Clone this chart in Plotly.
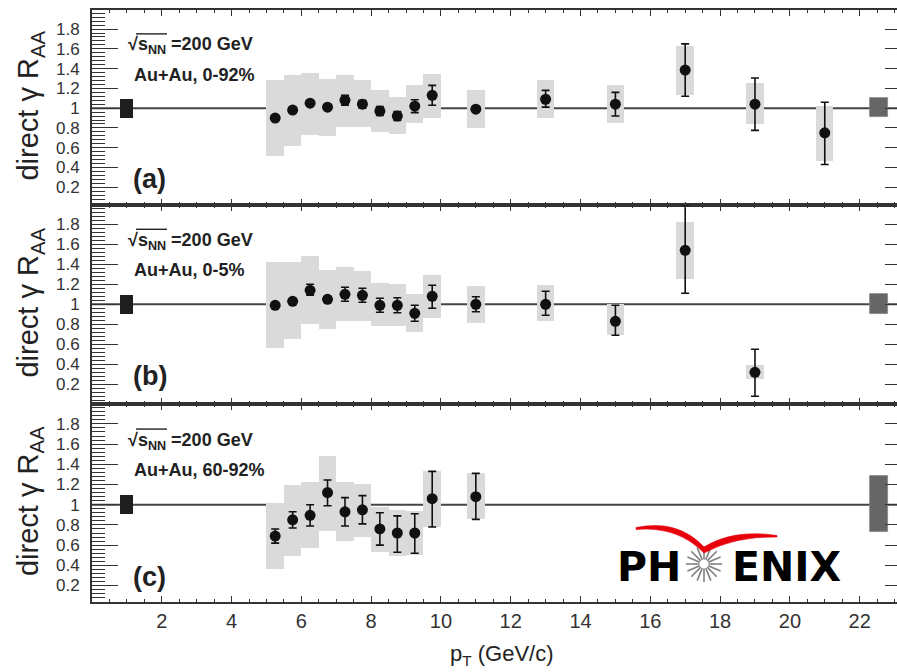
import math
import plotly.graph_objects as go

# ---------------- data ----------------
pt_a = [5.25, 5.75, 6.25, 6.75, 7.25, 7.75, 8.25, 8.75, 9.25, 9.75, 11, 13, 15, 17, 19, 21]
raa_a = [0.90, 0.98, 1.05, 1.01, 1.08, 1.04, 0.97, 0.92, 1.02, 1.13, 0.99, 1.09, 1.04, 1.385, 1.04, 0.75]
stat_up_a = [0.02, 0.02, 0.02, 0.02, 0.05, 0.04, 0.045, 0.045, 0.065, 0.10, 0.02, 0.09, 0.12, 0.265, 0.265, 0.31]
stat_dn_a = [0.02, 0.02, 0.02, 0.02, 0.05, 0.04, 0.045, 0.045, 0.065, 0.10, 0.02, 0.08, 0.12, 0.265, 0.265, 0.32]
sys_lo_a = [0.52, 0.62, 0.73, 0.72, 0.81, 0.81, 0.76, 0.74, 0.85, 0.90, 0.80, 0.90, 0.85, 1.13, 0.84, 0.47]
sys_hi_a = [1.28, 1.34, 1.36, 1.29, 1.34, 1.28, 1.18, 1.11, 1.23, 1.35, 1.18, 1.28, 1.23, 1.63, 1.25, 1.02]

pt_b = [5.25, 5.75, 6.25, 6.75, 7.25, 7.75, 8.25, 8.75, 9.25, 9.75, 11, 13, 15, 17, 19]
raa_b = [0.99, 1.03, 1.14, 1.05, 1.10, 1.09, 0.99, 0.99, 0.91, 1.08, 1.00, 1.00, 0.83, 1.54, 0.32]
stat_up_b = [0.02, 0.02, 0.06, 0.02, 0.07, 0.07, 0.07, 0.075, 0.08, 0.11, 0.075, 0.13, 0.16, 0.45, 0.23]
stat_dn_b = [0.02, 0.02, 0.05, 0.02, 0.07, 0.07, 0.07, 0.075, 0.08, 0.12, 0.075, 0.11, 0.14, 0.43, 0.24]
sys_lo_b = [0.56, 0.65, 0.80, 0.75, 0.83, 0.83, 0.78, 0.78, 0.72, 0.86, 0.81, 0.83, 0.69, 1.25, 0.25]
sys_hi_b = [1.42, 1.42, 1.48, 1.34, 1.37, 1.33, 1.21, 1.20, 1.10, 1.29, 1.18, 1.19, 1.00, 1.82, 0.39]

pt_c = [5.25, 5.75, 6.25, 6.75, 7.25, 7.75, 8.25, 8.75, 9.25, 9.75, 11]
raa_c = [0.69, 0.85, 0.895, 1.12, 0.93, 0.95, 0.76, 0.72, 0.72, 1.06, 1.08]
stat_up_c = [0.07, 0.08, 0.105, 0.125, 0.14, 0.14, 0.16, 0.17, 0.19, 0.27, 0.23]
stat_dn_c = [0.07, 0.08, 0.105, 0.13, 0.14, 0.14, 0.16, 0.19, 0.20, 0.28, 0.225]
sys_lo_c = [0.36, 0.49, 0.57, 0.74, 0.64, 0.68, 0.53, 0.49, 0.50, 0.78, 0.855]
sys_hi_c = [1.02, 1.195, 1.22, 1.48, 1.22, 1.21, 0.98, 0.95, 0.94, 1.33, 1.31]

sys_width = [0.5] * 16

norm_left_x = 1.0
norm_left_lo = [0.905, 0.905, 0.905]
norm_left_hi = [1.095, 1.095, 1.095]
norm_right_x = 22.55
norm_right_lo = [0.91, 0.90, 0.73]
norm_right_hi = [1.10, 1.10, 1.28]

x_tickvals = [2, 4, 6, 8, 10, 12, 14, 16, 18, 20, 22]
y_tickvals = [0.2, 0.4, 0.6, 0.8, 1.0, 1.2, 1.4, 1.6, 1.8]
y_ticktext = ["0.2", "0.4", "0.6", "0.8", "1", "1.2", "1.4", "1.6", "1.8"]

panel_labels = ["(a)", "(b)", "(c)"]
centrality = ["Au+Au, 0-92%", "Au+Au, 0-5%", "Au+Au, 60-92%"]
energy_label = "\u221as<sub>NN</sub> =200 GeV"
ytitle = "direct \u03b3 R<sub>AA</sub>"
xtitle = "p<sub>T</sub> (GeV/c)"

# ---------------- style ----------------
FONT = "Liberation Sans, Arial, Helvetica, sans-serif"
FRAME = "#333333"
BOX = "#dadada"
W, H = 897, 672
ML, MR, MT, MB = 92, 0, 10, 70
plot_h = H - MT - MB
plot_w = W - ML - MR
bounds = [(10, 205), (205, 404), (404, 602)]
yranges = [[0.02, 1.993], [0.003, 1.993], [0.037, 1.997]]
xrange_ = [0, 23.07]

fig = go.Figure()

panels = [
    (pt_a, raa_a, stat_up_a, stat_dn_a, sys_lo_a, sys_hi_a),
    (pt_b, raa_b, stat_up_b, stat_dn_b, sys_lo_b, sys_hi_b),
    (pt_c, raa_c, stat_up_c, stat_dn_c, sys_lo_c, sys_hi_c),
]


def ids(i):
    return ("x" if i == 0 else f"x{i+1}"), ("y" if i == 0 else f"y{i+1}")


for i, (pt, raa, su, sd, lo, hi) in enumerate(panels):
    xa, ya = ids(i)
    fig.add_trace(go.Bar(
        x=pt, y=[h - l for h, l in zip(hi, lo)], base=lo,
        width=sys_width[:len(pt)], marker=dict(color=BOX, line=dict(width=0)),
        xaxis=xa, yaxis=ya, showlegend=False, hoverinfo="skip"))
    fig.add_trace(go.Bar(
        x=[norm_left_x], y=[norm_left_hi[i] - norm_left_lo[i]], base=[norm_left_lo[i]],
        width=[0.37], marker=dict(color="#1e1e1e", line=dict(width=0)),
        xaxis=xa, yaxis=ya, showlegend=False, hoverinfo="skip"))
    fig.add_trace(go.Bar(
        x=[norm_right_x], y=[norm_right_hi[i] - norm_right_lo[i]], base=[norm_right_lo[i]],
        width=[0.5], marker=dict(color="#666666", line=dict(width=0.8, color="#888888")),
        xaxis=xa, yaxis=ya, showlegend=False, hoverinfo="skip"))
    fig.add_trace(go.Scatter(
        x=pt, y=raa, mode="markers",
        marker=dict(color="#111111", size=11, symbol="circle"),
        error_y=dict(type="data", array=su, arrayminus=sd, symmetric=False,
                     color="#111111", thickness=1.6, width=4),
        xaxis=xa, yaxis=ya, showlegend=False, hoverinfo="skip"))
    fig.add_shape(type="line", xref=f"{xa} domain", yref=ya, x0=0, x1=1, y0=1, y1=1,
                  line=dict(color="#444444", width=2), layer="below")

layout = dict(
    width=W, height=H,
    margin=dict(l=ML, r=MR, t=MT, b=MB),
    paper_bgcolor="white", plot_bgcolor="white",
    barmode="overlay", bargap=0,
    font=dict(family=FONT, color="#222222"),
    showlegend=False,
)

for i in range(3):
    top, bot = bounds[i]
    d0 = (H - MB - bot) / plot_h
    d1 = (H - MB - top) / plot_h
    xid, yid = ids(i)
    xname = "xaxis" if i == 0 else f"xaxis{i+1}"
    yname = "yaxis" if i == 0 else f"yaxis{i+1}"
    layout[xname] = dict(
        range=xrange_, domain=[0, 1], anchor=yid,
        showline=True, linecolor=FRAME, linewidth=2, mirror="ticks",
        ticks="inside", ticklen=6, tickwidth=1.3, tickcolor=FRAME,
        tickmode="array", tickvals=x_tickvals,
        minor=dict(ticks="inside", ticklen=3, tickwidth=1, tickcolor=FRAME,
                   tickmode="linear", dtick=0.5, tick0=0),
        showgrid=False, zeroline=False,
        showticklabels=(i == 2),
        tickfont=dict(size=20, color="#333333", family=FONT),
        ticklabelstandoff=0,
    )
    if i > 0:
        layout[xname]["matches"] = "x"
    layout[yname] = dict(
        range=yranges[i], domain=[d0, d1], anchor=xid,
        showline=True, linecolor=FRAME, linewidth=2,
        ticks="inside", ticklen=26, tickwidth=1.3, tickcolor=FRAME,
        tickmode="array", tickvals=y_tickvals, ticktext=y_ticktext,
        minor=dict(ticks="inside", ticklen=13, tickwidth=1, tickcolor=FRAME,
                   tickmode="linear", dtick=0.04, tick0=0),
        showgrid=False, zeroline=False,
        tickfont=dict(size=17, color="#333333", family=FONT),
        ticklabelstandoff=7,
    )
    layout[f"yaxis{i+4}"] = dict(
        range=yranges[i], overlaying=yid, side="right", anchor=xid,
        showline=True, linecolor=FRAME, linewidth=2,
        ticks="inside", ticklen=12, tickwidth=1.3, tickcolor=FRAME,
        tickmode="array", tickvals=y_tickvals, showticklabels=False,
        showgrid=False, zeroline=False,
    )

fig.update_layout(**layout)
for i in range(3):
    xid, _ = ids(i)
    fig.add_trace(go.Scatter(x=[None], y=[None], xaxis=xid, yaxis=f"y{i+4}",
                             showlegend=False, hoverinfo="skip"))


def px2x(px):
    return (px - ML) / ((plot_w) / (xrange_[1] - xrange_[0]))


def py2y(i, py):
    top, bot = bounds[i]
    r0, r1 = yranges[i]
    return r0 + (bot - py) / (bot - top) * (r1 - r0)


def y2py(i, v):
    top, bot = bounds[i]
    r0, r1 = yranges[i]
    return bot - (v - r0) / (r1 - r0) * (bot - top)


annots = []
for i in range(3):
    xid, yid = ids(i)
    annots.append(dict(x=0.97, y=1.63, xref=xid, yref=yid, text=f"<b>{energy_label}</b>",
                       showarrow=False, xanchor="left", yanchor="middle",
                       font=dict(size=18, family=FONT, color="#222222")))
    annots.append(dict(x=1.15, y=1.34, xref=xid, yref=yid, text=f"<b>{centrality[i]}</b>",
                       showarrow=False, xanchor="left", yanchor="middle",
                       font=dict(size=18, family=FONT, color="#222222")))
    annots.append(dict(x=1.12, y=0.28, xref=xid, yref=yid, text=f"<b>{panel_labels[i]}</b>",
                       showarrow=False, xanchor="left", yanchor="middle",
                       font=dict(size=27, family=FONT, color="#222222")))
    annots.append(dict(x=(30 - ML) / plot_w, y=0.51, xref="paper", yref=f"{yid} domain",
                       text=ytitle, textangle=-90, showarrow=False,
                       xanchor="center", yanchor="middle",
                       font=dict(size=29, family=FONT, color="#222222")))
    cpy = y2py(i, 1.63)
    fig.add_shape(type="line", xref=xid, yref=yid,
                  x0=px2x(136), x1=px2x(167), y0=py2y(i, cpy - 12), y1=py2y(i, cpy - 12),
                  line=dict(color="#222222", width=1.4))
annots.append(dict(x=(502 - ML) / plot_w, y=(H - MB - 655) / plot_h, xref="paper", yref="paper",
                   text=xtitle, showarrow=False, xanchor="center", yanchor="middle",
                   font=dict(size=22, family=FONT, color="#222222")))

# PHENIX logo (decoration) in panel c coordinates
annots.append(dict(x=px2x(683), y=py2y(2, 567), xref="x3", yref="y3", text="<b>PH</b>",
                   showarrow=False, xanchor="right", yanchor="middle",
                   font=dict(size=41, family="DejaVu Sans", color="black")))
annots.append(dict(x=px2x(730), y=py2y(2, 567), xref="x3", yref="y3", text="<b>ENIX</b>",
                   showarrow=False, xanchor="left", yanchor="middle",
                   font=dict(size=41, family="DejaVu Sans", color="black")))
fig.update_layout(annotations=annots)

cx, cy = 704, 564
for k in range(16):
    a = 2 * math.pi * k / 16
    r0, r1 = 4.5, 18
    fig.add_shape(type="line", xref="x3", yref="y3",
                  x0=px2x(cx + r0 * math.cos(a)), y0=py2y(2, cy + r0 * math.sin(a)),
                  x1=px2x(cx + r1 * math.cos(a)), y1=py2y(2, cy + r1 * math.sin(a)),
                  line=dict(color="#808080", width=1.6))


def P(px, py):
    return f"{px2x(px):.4f},{py2y(2, py):.4f}"


swoosh = (f"M {P(636,527.5)} Q {P(678,519)} {P(704,547)} Q {P(733,529)} {P(777,535.5)} "
          f"L {P(777,537)} Q {P(735,536)} {P(704,553)} Q {P(678,526)} {P(636,529.5)} Z")
fig.add_shape(type="path", xref="x3", yref="y3", path=swoosh,
              fillcolor="#e8000b", line=dict(color="#e8000b", width=0.6))

fig.write_html("out.html")
